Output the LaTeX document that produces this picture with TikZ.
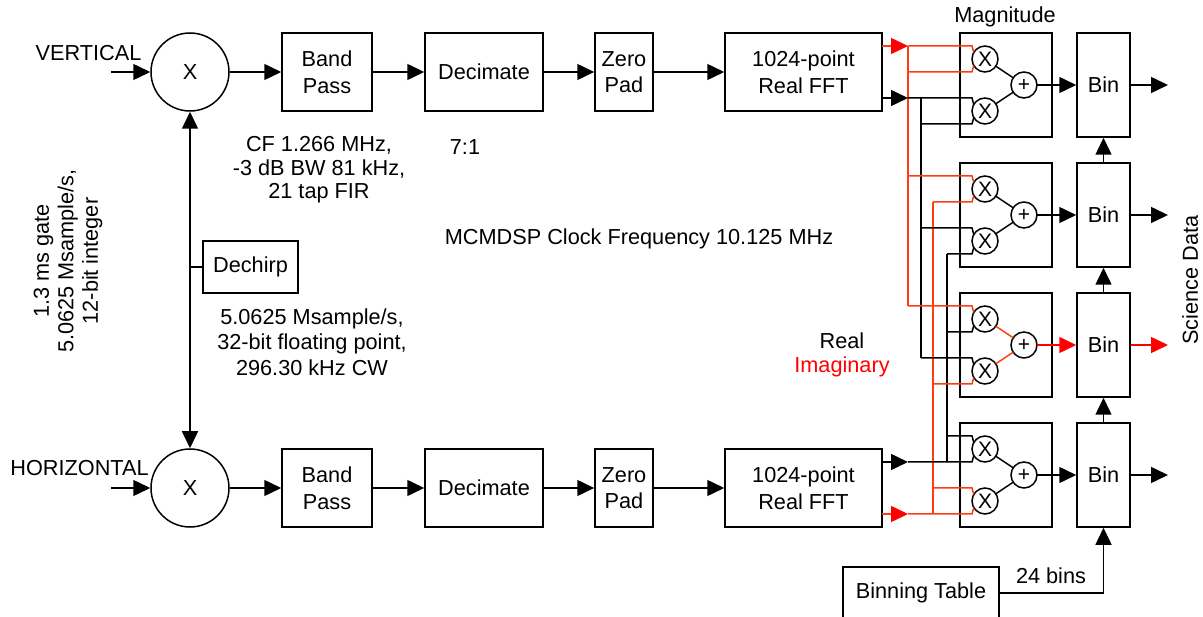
\documentclass[tikz,border=0pt]{standalone}
\usepackage{fontspec}
\setmainfont{Liberation Sans}
\usetikzlibrary{arrows.meta,calc}
\definecolor{wirered}{RGB}{255,60,20}
\newcommand\tapin[3]{\draw[#1] (#2 |- #3.north) -- ([xshift=-13pt]#3.north) -- (#3.150);}
\newcommand\tapinb[3]{\draw[#1] (#2 |- #3.south) -- ([xshift=-13pt]#3.south) -- (#3.210);}
\begin{document}
\begin{tikzpicture}[x=1pt,y=-1pt,
  every node/.style={font=\fontsize{21.7}{26.5}\selectfont},
  lw/.style={line width=1.5pt},
  blk/.style={draw,lw,inner sep=0pt,align=center},
  mix/.style={draw,lw,circle,minimum size=78pt,inner sep=0pt},
  op/.style={draw,lw,circle,minimum size=26pt,inner sep=0pt,outer sep=0pt,font=\fontsize{21}{21}\selectfont},
  bw/.style={lw,black},
  rw/.style={lw,wirered},
  tip/.style={-{Triangle[length=17pt,width=16pt]}},
  rtip/.style={-{Triangle[length=17pt,width=16pt,color=red]}},
]
\useasboundingbox (0,0) rectangle (1203,617);
\clip (0,0) rectangle (1203,617);

% ---- mixers and chain
\node[mix] (mixV) at (190,72) {X};
\node[mix] (mixH) at (190,488) {X};
\coordinate (inV) at (111,72);
\coordinate (inH) at (111,488);
\draw[bw,tip] (inV) -- (mixV);
\draw[bw,tip] (inH) -- (mixH);
\node (lblV) at (88.5,53) {VERTICAL};
\node (lblH) at (79.5,468) {HORIZONTAL};

\node[blk,minimum width=90pt,minimum height=78pt] (bp1) at (327,72) {Band\\Pass};
\node[blk,minimum width=118pt,minimum height=78pt] (dec1) at (484,72) {Decimate};
\node[blk,minimum width=58pt,minimum height=78pt] (zp1) at (624,72) {Zero\\Pad};
\node[blk,minimum width=157pt,minimum height=78pt] (fft1) at (803.5,72) {1024-point\\Real FFT};

\node[blk,minimum width=90pt,minimum height=78pt] (bp2) at (327,488) {Band\\Pass};
\node[blk,minimum width=118pt,minimum height=78pt] (dec2) at (484,488) {Decimate};
\node[blk,minimum width=58pt,minimum height=78pt] (zp2) at (624,488) {Zero\\Pad};
\node[blk,minimum width=157pt,minimum height=78pt] (fft2) at (803.5,488) {1024-point\\Real FFT};

\draw[bw,tip] (mixV) -- (bp1);
\draw[bw,tip] (bp1) -- (dec1);
\draw[bw,tip] (dec1) -- (zp1);
\draw[bw,tip] (zp1) -- (fft1);
\draw[bw,tip] (mixH) -- (bp2);
\draw[bw,tip] (bp2) -- (dec2);
\draw[bw,tip] (dec2) -- (zp2);
\draw[bw,tip] (zp2) -- (fft2);

% ---- dechirp
\node[blk,minimum width=95pt,minimum height=52pt] (dch) at (250.5,267) {Dechirp};
\draw[bw] (mixV.south |- dch.west) -- (dch.west);
\draw[bw,{Triangle[length=17pt,width=16pt]}-{Triangle[length=17pt,width=16pt]}] (mixV) -- (mixH);

% ---- notes
\node[align=center,font=\fontsize{21.7}{23.5}\selectfont] (bpnote) at (319,170) {CF 1.266 MHz,\\-3 dB BW 81 kHz,\\21 tap FIR};
\node (decnote) at (465,147) {7:1};
\node[align=center,font=\fontsize{21.7}{25.5}\selectfont] (dchnote) at (312,342) {5.0625 Msample/s,\\32-bit floating point,\\296.30 kHz CW};
\node (clk) at (639,239) {MCMDSP Clock Frequency 10.125 MHz};
\node (real) at (842,341) {Real};
\node[text=red] (imag) at (842,367) {Imaginary};
\node (magl) at (1005,17) {Magnitude};
\node[rotate=90] (sci) at (1190,280) {Science Data};
\node[rotate=90,align=center,font=\fontsize{21.7}{24.5}\selectfont] (adc) at (68,261) {1.3 ms gate\\5.0625 Msample/s,\\12-bit integer};

% ---- magnitude blocks and bins
\foreach \i/\T in {1/33,2/163,3/293,4/423}{
  \node[blk,minimum width=92pt,minimum height=104pt] (mag\i) at (1006,\T+52) {};
  \node[op] (ma\i) at (985,\T+26) {X};
  \node[op] (mb\i) at (985,\T+78) {X};
  \node[op] (p\i) at (1024,\T+52) {+};
  \node[blk,minimum width=53pt,minimum height=104pt] (bin\i) at (1103.5,\T+52) {Bin};
  \coordinate (o\i) at (1168,\T+52);
}
\foreach \i in {1,2,4}{
  \draw[bw] (ma\i) -- (p\i);
  \draw[bw] (mb\i) -- (p\i);
  \draw[bw,tip] (p\i) -- (bin\i);
  \draw[bw,tip] (bin\i.east) -- (o\i);
}
\draw[rw] (ma3) -- (p3);
\draw[rw] (mb3) -- (p3);
\draw[lw,red,rtip] (p3) -- (bin3);
\draw[lw,red,rtip] (bin3.east) -- (o3);
\draw[bw,tip] (bin4) -- (bin3);
\draw[bw,tip] (bin3) -- (bin2);
\draw[bw,tip] (bin2) -- (bin1);

% ---- FFT outputs and buses
\coordinate (R1) at (908,0);
\coordinate (B1) at (921,0);
\coordinate (R2) at (933,0);
\coordinate (B2) at (947,0);
\coordinate (f1r) at (882,46);
\coordinate (f1b) at (882,98);
\coordinate (f2b) at (882,462);
\coordinate (f2r) at (882,514);

\draw[rw] (R1 |- ma1.north) -- (R1 |- ma3.north);
\draw[bw] (B1 |- mb1.north) -- (B1 |- mb3.north);
\draw[rw] (R2 |- mb4.south) -- (R2 |- ma2.south);
\draw[bw] (B2 |- ma4.south) -- (B2 |- mb2.south);

\tapin{rw}{R1}{ma1}
\tapinb{rw}{R1}{ma1}
\tapin{bw}{R1}{mb1}
\tapinb{bw}{B1}{mb1}

\tapin{rw}{R1}{ma2}
\tapinb{rw}{R2}{ma2}
\tapin{bw}{B1}{mb2}
\tapinb{bw}{B2}{mb2}

\tapin{rw}{R1}{ma3}
\tapinb{bw}{B2}{ma3}
\tapin{bw}{B1}{mb3}
\tapinb{rw}{R2}{mb3}

\tapin{bw}{B2}{ma4}
\tapinb{bw}{R1}{ma4}
\tapin{rw}{R2}{mb4}
\tapinb{rw}{R1}{mb4}

\draw[rw,rtip] (f1r) -- (R1 |- f1r);
\draw[bw,tip] (f1b) -- (R1 |- f1b);
\draw[bw,tip] (f2b) -- (R1 |- f2b);
\draw[rw,rtip] (f2r) -- (R1 |- f2r);

% ---- binning table
\node[blk,minimum width=156pt,minimum height=52pt] (bt) at (921,593) {Binning Table};
\node (nbins) at (1051,576) {24 bins};
\draw[bw,tip] (bt.east) -| (bin4.south);
\end{tikzpicture}
\end{document}
